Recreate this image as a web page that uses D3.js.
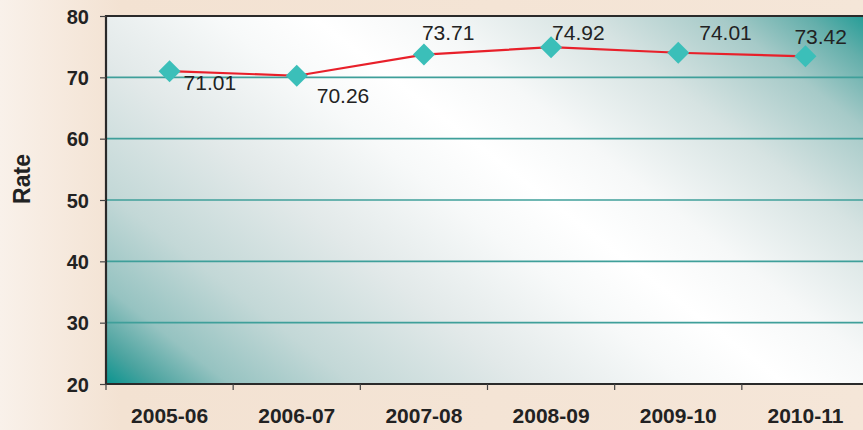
<!DOCTYPE html>
<html>
<head>
<meta charset="utf-8">
<script src="https://cdn.jsdelivr.net/npm/d3@7/dist/d3.min.js"></script>
<style>
  html, body { margin: 0; padding: 0; background: #f4e4d5; }
  svg { display: block; }
</style>
</head>
<body>
<div class="chart"></div>
<script>
'use strict'

// data
const years = ['2005-06', '2006-07', '2007-08', '2008-09', '2009-10', '2010-11']
const rates = [71.01, 70.26, 73.71, 74.92, 74.01, 73.42]
const yTicks = [20, 30, 40, 50, 60, 70, 80]

// hand-placed data label offsets (dx, dy from the point), like the original
const labelDx = [14, 20, -2, 1, 21, -11]
const labelDy = [19, 27, -15, -7, -13, -12]

const width = 863
const height = 430
const margin = { top: 16, left: 106, bottom: 384, right: 869 }

const svg = d3.select('.chart').append('svg')
    .attr('width', width)
    .attr('height', height)

const defs = svg.append('defs')

// page background
const bg = defs.append('linearGradient')
    .attr('id', 'bg')
    .attr('x1', 0).attr('y1', 0).attr('x2', 1).attr('y2', 0)
bg.append('stop').attr('offset', 0).attr('stop-color', '#f9f1ea')
bg.append('stop').attr('offset', 0.14).attr('stop-color', '#f3e2d2')
bg.append('stop').attr('offset', 1).attr('stop-color', '#f5e6d8')

// plot area: teal corners, white diagonal band
const pg = defs.append('linearGradient')
    .attr('id', 'plotbg')
    .attr('gradientUnits', 'userSpaceOnUse')
    .attr('x1', 255).attr('y1', 499).attr('x2', 719).attr('y2', -99)
;[
  [0.00, '#0a948f'],
  [0.04, '#4aa39f'],
  [0.10, '#96c3c1'],
  [0.20, '#c3d8d7'],
  [0.34, '#e2e9e9'],
  [0.47, '#f7f9f9'],
  [0.55, '#ffffff'],
  [0.64, '#f6f8f8'],
  [0.77, '#d6e3e2'],
  [0.88, '#a6cac8'],
  [0.95, '#64afab'],
  [1.00, '#229c96']
].forEach(s => pg.append('stop').attr('offset', s[0]).attr('stop-color', s[1]))

svg.append('rect')
    .attr('width', width)
    .attr('height', height)
    .attr('fill', 'url(#bg)')

const x = d3.scaleBand()
    .domain(years)
    .range([margin.left, margin.right])

const y = d3.scaleLinear()
    .domain([20, 80])
    .range([margin.bottom, margin.top])

svg.append('rect')
    .attr('x', margin.left)
    .attr('y', margin.top)
    .attr('width', margin.right - margin.left)
    .attr('height', margin.bottom - margin.top)
    .attr('fill', 'url(#plotbg)')

// gridlines
svg.selectAll('.grid')
    .data(yTicks.slice(1, -1))
  .enter().append('line')
    .attr('class', 'grid')
    .attr('x1', margin.left)
    .attr('x2', margin.right)
    .attr('y1', d => y(d))
    .attr('y2', d => y(d))
    .style('stroke', '#3f9f9a')
    .style('stroke-width', 1.6)

// frame: top, left, bottom
svg.append('path')
    .attr('d', 'M' + margin.right + ',' + margin.top + 'H' + margin.left
        + 'V' + margin.bottom + 'H' + margin.right)
    .style('fill', 'none')
    .style('stroke', '#2a2a2a')
    .style('stroke-width', 2.2)

// y axis
const yAxis = svg.append('g')
    .attr('transform', 'translate(' + margin.left + ',0)')
    .call(d3.axisLeft(y).tickValues(yTicks).tickSize(6).tickPadding(10))
yAxis.select('.domain').remove()
yAxis.selectAll('line').style('stroke', '#444').style('stroke-width', 1.2)
yAxis.selectAll('text')
    .style('font-family', '"Liberation Sans", Arial, sans-serif')
    .style('font-size', '20px')
    .style('font-weight', 'bold')
    .style('fill', '#222')
    .attr('x', -17)
    .attr('dy', '0.36em')

// x axis: ticks on category boundaries, labels in the middle
const boundaries = years.map(d => x(d)).concat([margin.right])
svg.selectAll('.xtick')
    .data(boundaries)
  .enter().append('line')
    .attr('class', 'xtick')
    .attr('x1', d => d).attr('x2', d => d)
    .attr('y1', margin.bottom).attr('y2', margin.bottom + 6)
    .style('stroke', '#444')
    .style('stroke-width', 1.2)

svg.selectAll('.xlabel')
    .data(years)
  .enter().append('text')
    .attr('class', 'xlabel')
    .attr('x', d => x(d) + x.bandwidth() / 2)
    .attr('y', 423)
    .attr('text-anchor', 'middle')
    .style('font-family', '"Liberation Sans", Arial, sans-serif')
    .style('font-size', '21px')
    .style('font-weight', 'bold')
    .style('fill', '#222')
    .text(d => d)

// axis title
svg.append('text')
    .attr('transform', 'translate(30,179) rotate(-90)')
    .attr('text-anchor', 'middle')
    .style('font-family', '"Liberation Sans", Arial, sans-serif')
    .style('font-size', '23px')
    .style('font-weight', 'bold')
    .style('fill', '#222')
    .text('Rate')

// series
const pts = years.map((d, i) => ({ year: d, value: rates[i], i }))
const cx = d => x(d.year) + x.bandwidth() / 2

svg.append('path')
    .datum(pts)
    .attr('d', d3.line().x(cx).y(d => y(d.value)))
    .style('fill', 'none')
    .style('stroke', '#e8202a')
    .style('stroke-width', 2.2)

svg.selectAll('.marker')
    .data(pts)
  .enter().append('path')
    .attr('class', 'marker')
    .attr('transform', d => 'translate(' + cx(d) + ',' + y(d.value) + ')')
    .attr('d', 'M0,-11L11,0L0,11L-11,0Z')
    .style('fill', '#3bbfb9')

svg.selectAll('.dlabel')
    .data(pts)
  .enter().append('text')
    .attr('class', 'dlabel')
    .attr('x', d => cx(d) + labelDx[d.i])
    .attr('y', d => y(d.value) + labelDy[d.i])
    .style('font-family', '"Liberation Sans", Arial, sans-serif')
    .style('font-size', '21px')
    .style('fill', '#222')
    .text(d => d3.format('.2f')(d.value))
</script>
</body>
</html>
